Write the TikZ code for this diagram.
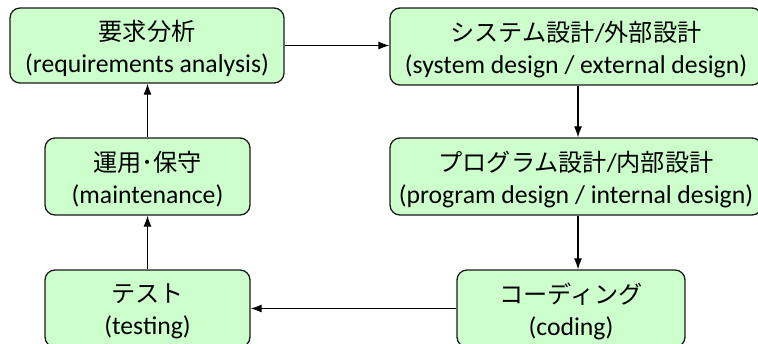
\documentclass[tikz,border=0pt]{standalone}
\usepackage{fontspec}
\setmainfont{Carlito}
\newfontfamily\jp{Noto Sans CJK JP}[Scale=0.94]
\usetikzlibrary{arrows.meta,calc}
\definecolor{boxfill}{HTML}{CCFFCC}
\definecolor{boxline}{HTML}{1A1A1A}
\tikzset{
  stepbox/.style={draw=boxline, line width=1.3pt, fill=boxfill, rounded corners=10pt,
    inner sep=0pt},
  steptext/.style={inner sep=0pt, align=center, font=\fontsize{25.7}{32}\selectfont},
  arr/.style={draw=black, line width=1.2pt, -{Latex[length=11pt,width=8pt]}}
}
\begin{document}
\begin{tikzpicture}[x=1pt,y=-1pt]
\useasboundingbox (0,0) rectangle (758,343);
\clip (0,0) rectangle (758,343);
\node[stepbox, minimum width=274pt, minimum height=75pt] (b1) at (147,45.5) {};
\node[stepbox, minimum width=372pt, minimum height=77pt] (b2) at (576,46.5) {};
\node[stepbox, minimum width=372pt, minimum height=77pt] (b5) at (576,176.5) {};
\node[stepbox, minimum width=228pt, minimum height=77pt] (b6) at (571,308.5) {};
\node[stepbox, minimum width=205pt, minimum height=77pt] (b4) at (147.5,308.5) {};
\node[stepbox, minimum width=205pt, minimum height=77pt] (b3) at (147.5,176.5) {};
\node[steptext] (t1) at ([yshift=-3pt]b1.center)
  {{\jp 要求分析}\\(requirements analysis)};
\node[steptext] (t2) at ([yshift=-3pt]b2.center)
  {{\jp システム設計}/{\jp 外部設計}\\(system design / external design)};
\node[steptext] (t5) at ([yshift=-3pt]b5.center)
  {{\jp プログラム設計}/{\jp 内部設計}\\(program design / internal design)};
\node[steptext] (t6) at ([yshift=-3pt]b6.center)
  {{\jp コーディング}\\(coding)};
\node[steptext] (t4) at ([yshift=-3pt]b4.center)
  {{\jp テスト}\\(testing)};
\node[steptext] (t3) at ([yshift=-3pt]b3.center)
  {{\jp 運用･保守}\\(maintenance)};
\coordinate (cx) at (578,0);
\draw[arr] (b1.east) -- (b1.east -| b2.west);
\draw[arr] (b2.south -| cx) -- (b5.north -| cx);
\draw[arr] (b5.south -| cx) -- (b6.north -| cx);
\draw[arr] (b6.west) -- (b4.east);
\draw[arr] (b4.north) -- (b3.south);
\draw[arr] (b3.north) -- (b1.south -| b3.north);
\end{tikzpicture}
\end{document}
